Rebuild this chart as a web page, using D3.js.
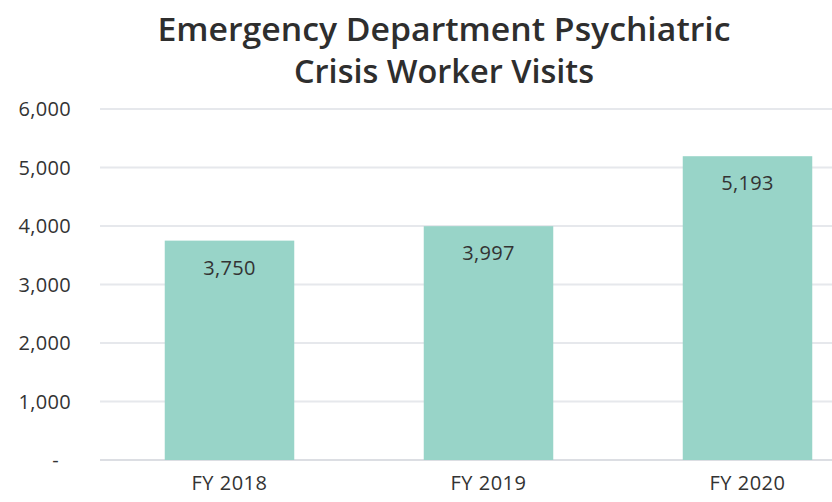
<!DOCTYPE html>
<html><head><meta charset="utf-8">
<script src="https://cdn.jsdelivr.net/npm/d3@7"></script>
<style>body{margin:0;background:#fff}</style>
</head><body>
<svg id="c" width="832" height="502"></svg>
<script>
const categories = ["FY 2018", "FY 2019", "FY 2020"];
const values = [3750, 3997, 5193];
const yTicks = [0, 1000, 2000, 3000, 4000, 5000, 6000];
const titleLines = ["Emergency Department Psychiatric", "Crisis Worker Visits"];

const svg = d3.select("#c");
const font = "'Open Sans', sans-serif";
const x = d3.scaleBand().domain(categories).range([100, 877]).paddingInner(0.5).paddingOuter(0.25);
const y = d3.scaleLinear().domain([0, 6000]).range([460, 109]);
const fmt = d3.format(",");

// gridlines
svg.append("g").selectAll("line").data(yTicks).join("line")
  .attr("x1", 100).attr("x2", 832)
  .attr("y1", d => y(d)).attr("y2", d => y(d))
  .attr("stroke", d => d === 0 ? "#dcdee3" : "#e6e8ec").attr("stroke-width", 2);

// y labels
svg.append("g").selectAll("text").data(yTicks).join("text")
  .attr("x", 71).attr("y", d => y(d)).attr("dy", "0.35em")
  .attr("text-anchor", "end").attr("font-family", font).attr("font-size", 20)
  .attr("letter-spacing", 0.3)
  .attr("fill", "#333")
  .text(d => d === 0 ? "-" : fmt(d))
  .attr("dx", d => d === 0 ? -12 : 0);

// bars
svg.append("g").selectAll("rect").data(values).join("rect")
  .attr("x", (d, i) => x(categories[i])).attr("width", x.bandwidth())
  .attr("y", d => y(d)).attr("height", d => y(0) - y(d))
  .attr("fill", "#98d4c8");

// value labels
svg.append("g").selectAll("text").data(values).join("text")
  .attr("x", (d, i) => x(categories[i]) + x.bandwidth() / 2)
  .attr("y", d => y(d) + 27).attr("dy", "0.35em")
  .attr("text-anchor", "middle").attr("font-family", font).attr("font-size", 20)
  .attr("letter-spacing", 0.3)
  .attr("fill", "#333").text(d => fmt(d));

// x labels
svg.append("g").selectAll("text").data(categories).join("text")
  .attr("x", d => x(d) + x.bandwidth() / 2).attr("y", 483).attr("dy", "0.35em")
  .attr("text-anchor", "middle").attr("font-family", font).attr("font-size", 20)
  .attr("letter-spacing", 0.5)
  .attr("fill", "#333").text(d => d);

// title
const titleWidths = [573, 300];
svg.append("g").selectAll("text").data(titleLines).join("text")
  .attr("x", 444).attr("y", (d, i) => 41 + i * 42)
  .attr("text-anchor", "middle").attr("font-family", font).attr("font-size", 32)
  .attr("font-weight", 600).attr("fill", "#2e2e2e")
  .attr("textLength", (d, i) => titleWidths[i]).attr("lengthAdjust", "spacingAndGlyphs")
  .text(d => d);
</script>
</body></html>
